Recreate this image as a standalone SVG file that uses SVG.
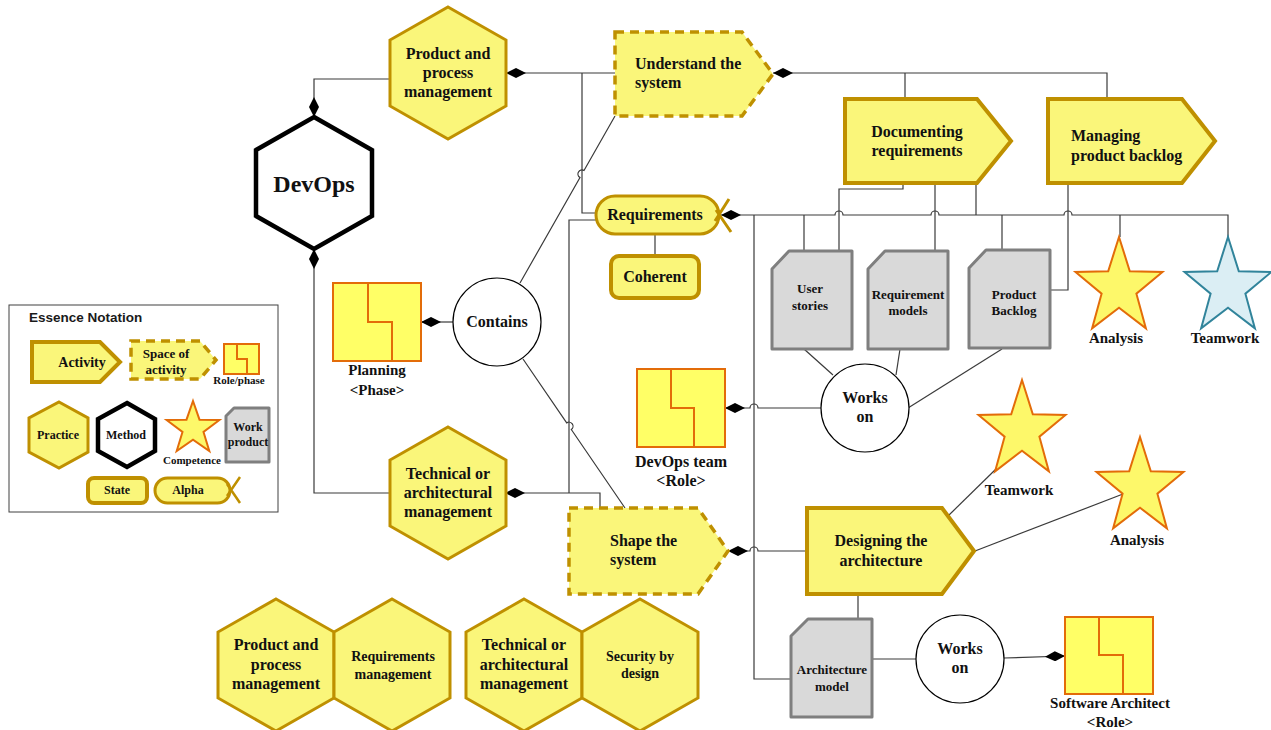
<svg xmlns="http://www.w3.org/2000/svg" xmlns:xlink="http://www.w3.org/1999/xlink" width="1271" height="730" viewBox="0 0 1271 730">
  <style>
    .t { font-family: "Liberation Serif", "Times New Roman", serif; font-weight: bold; fill: #111; text-anchor: middle; }
    .s { text-anchor: start; }
    .f16 { font-size: 16px; }
    .f15 { font-size: 15px; }
    .f14 { font-size: 14px; }
    .f13 { font-size: 13px; }
    .f12 { font-size: 12px; }
    .f11 { font-size: 11px; }
    .practice { fill: #faf67a; stroke: #bf9000; stroke-width: 3; stroke-linejoin: miter; }
    .method { fill: #fff; stroke: #000; stroke-width: 4.5; }
    .activity { fill: #faf67a; stroke: #bf9000; stroke-width: 4; }
    .space { fill: #faf67a; stroke: #bf9000; stroke-width: 3.5; stroke-dasharray: 9 6; }
    .role { fill: #ffff66; stroke: #e36c09; stroke-width: 2; }
    .roleln { fill: none; stroke: #e36c09; stroke-width: 2; }
    .star { fill: #fdf86a; stroke: #e36c09; stroke-width: 2; stroke-linejoin: miter; }
    .starb { fill: #dbeef4; stroke: #31849b; stroke-width: 2; }
    .doc { fill: #d9d9d9; stroke: #7f7f7f; stroke-width: 3; stroke-linejoin: round; }
    .alpha { fill: #faf67a; stroke: #bf9000; stroke-width: 3; }
    .state { fill: #faf67a; stroke: #bf9000; stroke-width: 4; }
    .circ { fill: #fff; stroke: #000; stroke-width: 1.2; }
    .c { fill: none; stroke: #3a3a3a; stroke-width: 1.2; }
    .cd { fill: none; stroke: #3a3a3a; stroke-width: 1.2; marker-start: url(#dia); }
  </style>
  <defs>
    <marker id="dia" viewBox="0 0 20 10" refX="0" refY="5" markerWidth="20" markerHeight="10" markerUnits="userSpaceOnUse" orient="auto">
      <path d="M0,5 L10,0 L20,5 L10,10 Z" fill="#000"/>
    </marker>
    <!-- five-pointed competency star centred on the origin -->
    <path id="bigstar" d="M0,-50.5 L10.8,-16.3 L43.5,-15.6 L17.4,6.2 L26.9,40.9 L0,20.2 L-26.9,40.9 L-17.4,6.2 L-43.5,-15.6 L-10.8,-16.3 Z"/>
  </defs>

  <rect width="1271" height="730" fill="#fff"/>

  <!-- connectors -->
  <g id="connectors">
    <path class="cd" d="M314,117 V79 H390"/>
    <path class="cd" d="M314,249 V493 H390"/>
    <path class="cd" d="M506,73 H615"/>
    <path class="c" d="M582,73 V213 H596"/>
    <path class="cd" d="M773,73 H1107 V99"/>
    <path class="c" d="M905,73 V99"/>
    <path class="c" d="M615,116 L584,170.5 A4,4 0 0 0 580,177.5 L520,283"/>
    <path class="cd" d="M421,322 H453"/>
    <path class="c" d="M523,359 L566.7,422.9 A4,4 0 0 1 571.3,429.5 L625,508"/>
    <path class="cd" d="M721,215 H835 A4,4 0 0 1 843,215 H931 A4,4 0 0 1 939,215 H1064 A4,4 0 0 1 1072,215 H1228 V237"/>
    <path class="c" d="M1120,215 V237"/>
    <path class="c" d="M804,215 V251"/>
    <path class="c" d="M903,183 V189 H839 V251"/>
    <path class="c" d="M935,183 V251"/>
    <path class="c" d="M976,183 V215"/>
    <path class="c" d="M1002,215 V250"/>
    <path class="c" d="M1068,183 V290 H1050"/>
    <path class="c" d="M754,215 V679 H791"/>
    <path class="c" d="M655,234 V255"/>
    <path class="c" d="M596,220 H569 V493"/>
    <path class="cd" d="M505,493 H600 V508"/>
    <path class="cd" d="M725,408 H750 A4,4 0 0 1 758,408 H821"/>
    <path class="cd" d="M728,551 H750 A4,4 0 0 1 758,551 H807"/>
    <path class="c" d="M804,349 L833,375"/>
    <path class="c" d="M900,349 L896,375"/>
    <path class="c" d="M1002,349 L908,408"/>
    <path class="c" d="M948,516 L996,469"/>
    <path class="c" d="M975,551 L1123,494"/>
    <path class="c" d="M858,594 V619"/>
    <path class="c" d="M872,659 H916"/>
    <path class="cd" d="M1065,656 L1004,658"/>
  </g>

  <!-- method -->
  <g id="devops">
    <polygon class="method" points="314,117 372,150 372,216 314,249 256,216 256,150"/>
    <text class="t" x="314" y="192" font-size="24">DevOps</text>
  </g>

  <!-- practices -->
  <g id="practice-product">
    <polygon class="practice" points="448,7 506,40 506,106 448,139 390,106 390,40"/>
    <text class="t f16" x="448" y="59">Product and</text>
    <text class="t f16" x="448" y="78">process</text>
    <text class="t f16" x="448" y="97">management</text>
  </g>
  <g id="practice-technical">
    <polygon class="practice" points="448,427 506,460 506,526 448,559 390,526 390,460"/>
    <text class="t f16" x="448" y="479">Technical or</text>
    <text class="t f16" x="448" y="498">architectural</text>
    <text class="t f16" x="448" y="517">management</text>
  </g>

  <!-- spaces of activity -->
  <g id="understand-system">
    <path class="space" d="M615,32 H742 L773,74 L742,116 H615 Z"/>
    <text class="t f16 s" x="635" y="69">Understand the</text>
    <text class="t f16 s" x="635" y="88">system</text>
  </g>
  <g id="shape-system">
    <path class="space" d="M569,508 H698 L728,551 L698,594 H569 Z"/>
    <text class="t f16 s" x="610" y="546">Shape the</text>
    <text class="t f16 s" x="610" y="565">system</text>
  </g>

  <!-- activities -->
  <g id="documenting-requirements">
    <path class="activity" d="M845,99 H977 L1011,141 L977,183 H845 Z"/>
    <text class="t f16" x="917" y="137">Documenting</text>
    <text class="t f16" x="917" y="156">requirements</text>
  </g>
  <g id="managing-backlog">
    <path class="activity" d="M1048,99 H1182 L1215,141 L1182,183 H1048 Z"/>
    <text class="t f16 s" x="1071" y="141">Managing</text>
    <text class="t f16 s" x="1071" y="161">product backlog</text>
  </g>
  <g id="designing-architecture">
    <path class="activity" d="M807,508 H942 L974,551 L942,594 H807 Z"/>
    <text class="t f16" x="881" y="546">Designing the</text>
    <text class="t f16" x="881" y="566">architecture</text>
  </g>

  <!-- alpha and state -->
  <g id="requirements">
    <rect class="alpha" x="596" y="196" width="123" height="38" rx="19"/>
    <path fill="none" stroke="#bf9000" stroke-width="3" d="M729,199 L715,221 M716,210 L731,232"/>
    <text class="t f16" x="655" y="220">Requirements</text>
  </g>
  <g id="coherent">
    <rect class="state" x="611" y="256" width="88" height="42" rx="8"/>
    <text class="t f16" x="655" y="282">Coherent</text>
  </g>

  <!-- phase and roles -->
  <g id="planning">
    <rect class="role" x="333" y="283" width="88" height="78"/>
    <path class="roleln" d="M368,283 V322 H392 V361"/>
    <text class="t f15" x="377" y="375">Planning</text>
    <text class="t f15" x="377" y="395">&lt;Phase&gt;</text>
  </g>
  <g id="contains">
    <circle class="circ" cx="497" cy="322" r="44"/>
    <text class="t f16" x="497" y="327">Contains</text>
  </g>
  <g id="devops-team">
    <rect class="role" x="637" y="369" width="88" height="78"/>
    <path class="roleln" d="M671,369 V408 H694 V447"/>
    <text class="t f16" x="681" y="467">DevOps team</text>
    <text class="t f16" x="681" y="486">&lt;Role&gt;</text>
  </g>
  <g id="software-architect">
    <rect class="role" x="1065" y="617" width="88" height="77"/>
    <path class="roleln" d="M1099,617 V655 H1123 V694"/>
    <text class="t f15" x="1110" y="708">Software Architect</text>
    <text class="t f15" x="1110" y="727">&lt;Role&gt;</text>
  </g>

  <!-- work products -->
  <g id="user-stories">
    <path class="doc" d="M772,269 L789,251 H852 V349 H772 Z"/>
    <text class="t f13" x="810" y="293">User</text>
    <text class="t f13" x="810" y="310">stories</text>
  </g>
  <g id="requirement-models">
    <path class="doc" d="M868,269 L885,251 H948 V349 H868 Z"/>
    <text class="t f13" x="908" y="299">Requirement</text>
    <text class="t f13" x="908" y="315">models</text>
  </g>
  <g id="product-backlog">
    <path class="doc" d="M969,268 L986,250 H1050 V348 H969 Z"/>
    <text class="t f13" x="1014" y="299">Product</text>
    <text class="t f13" x="1014" y="315">Backlog</text>
  </g>
  <g id="architecture-model">
    <path class="doc" d="M791,636 L808,619 H872 V717 H791 Z"/>
    <text class="t f13" x="832" y="674">Architecture</text>
    <text class="t f13" x="832" y="691">model</text>
  </g>

  <!-- relations -->
  <g id="works-on-1">
    <circle class="circ" cx="865" cy="408" r="44"/>
    <text class="t f16" x="865" y="403">Works</text>
    <text class="t f16" x="865" y="422">on</text>
  </g>
  <g id="works-on-2">
    <circle class="circ" cx="960" cy="659" r="44"/>
    <text class="t f16" x="960" y="654">Works</text>
    <text class="t f16" x="960" y="673">on</text>
  </g>

  <!-- competencies -->
  <g id="analysis-top">
    <use xlink:href="#bigstar" class="star" transform="translate(1119,287.5)"/>
    <text class="t f15" x="1116" y="343">Analysis</text>
  </g>
  <g id="teamwork-top">
    <use xlink:href="#bigstar" class="starb" transform="translate(1228,287.5)"/>
    <text class="t f15" x="1225" y="343">Teamwork</text>
  </g>
  <g id="teamwork-mid">
    <use xlink:href="#bigstar" class="star" transform="translate(1022,430.5)"/>
    <text class="t f15" x="1019" y="495">Teamwork</text>
  </g>
  <g id="analysis-mid">
    <use xlink:href="#bigstar" class="star" transform="translate(1140,487.5)"/>
    <text class="t f15" x="1137" y="545">Analysis</text>
  </g>

  <!-- practice row -->
  <g id="row-product">
    <polygon class="practice" points="276,599 334,632 334,698 276,731 218,698 218,632"/>
    <text class="t f16" x="276" y="650">Product and</text>
    <text class="t f16" x="276" y="670">process</text>
    <text class="t f16" x="276" y="689">management</text>
  </g>
  <g id="row-requirements">
    <polygon class="practice" points="392,599 450,632 450,698 392,731 334,698 334,632"/>
    <text class="t f14" x="393" y="661">Requirements</text>
    <text class="t f14" x="393" y="679">management</text>
  </g>
  <g id="row-technical">
    <polygon class="practice" points="524,599 582,632 582,698 524,731 466,698 466,632"/>
    <text class="t f16" x="524" y="650">Technical or</text>
    <text class="t f16" x="524" y="670">architectural</text>
    <text class="t f16" x="524" y="689">management</text>
  </g>
  <g id="row-security">
    <polygon class="practice" points="640,599 698,632 698,698 640,731 582,698 582,632"/>
    <text class="t f14" x="640" y="661">Security by</text>
    <text class="t f14" x="640" y="678">design</text>
  </g>

  <!-- notation key -->
  <g id="legend">
    <rect x="9" y="305" width="269" height="207" fill="#fff" stroke="#404040" stroke-width="1"/>
    <text x="29" y="322" font-family="'Liberation Sans', Arial, sans-serif" font-weight="bold" font-size="13.5" fill="#1a1a1a">Essence Notation</text>
    <path class="activity" d="M32,342 H100 L120,362 L100,382 H32 Z" stroke-width="3.5"/>
    <text class="t f14" x="82" y="367">Activity</text>
    <path class="space" d="M131,341 H200 L216,360 L200,379 H131 Z" stroke-width="3" stroke-dasharray="8 5"/>
    <text class="t f13" x="166" y="358">Space of</text>
    <text class="t f13" x="166" y="374">activity</text>
    <rect class="role" x="224" y="344" width="35" height="30"/>
    <path class="roleln" d="M237,344 V359 H247 V374"/>
    <text class="t f11" x="239" y="384">Role/phase</text>
    <polygon class="practice" points="59,402 88,418 88,452 59,468 29,452 29,418"/>
    <text class="t f12" x="58" y="439">Practice</text>
    <polygon class="method" points="127,403 155,419 155,451 127,467 98,451 98,419" stroke-width="3"/>
    <text class="t f12" x="126" y="439">Method</text>
    <path class="star" d="M193,401 L199.5,419.7 L219.4,420 L203.5,432 L209.3,451 L193,439.6 L176.7,451 L182.5,432 L166.6,420 L186.5,419.7 Z"/>
    <text class="t f11" x="192" y="464">Competence</text>
    <path class="doc" d="M226,416 L234,408 H269 V462 H226 Z"/>
    <text class="t f12" x="248" y="431">Work</text>
    <text class="t f12" x="248" y="446">product</text>
    <rect class="state" x="88" y="478" width="59" height="25" rx="6" stroke-width="3"/>
    <text class="t f12" x="117" y="494">State</text>
    <rect class="alpha" x="155" y="478" width="75" height="25" rx="12.5" stroke-width="2.5"/>
    <path fill="none" stroke="#bf9000" stroke-width="2.5" d="M240,477 L227,496 M227,484 L240,503"/>
    <text class="t f12" x="188" y="494">Alpha</text>
  </g>
</svg>
